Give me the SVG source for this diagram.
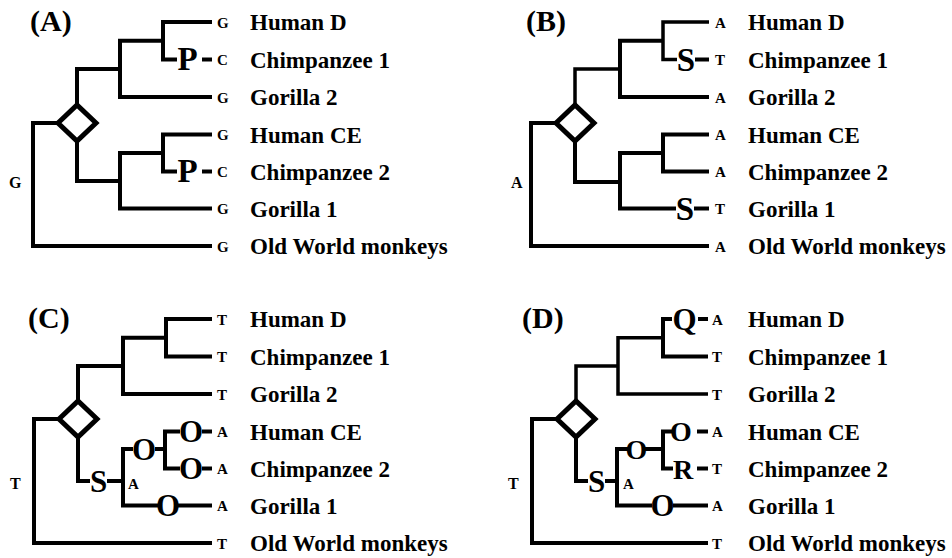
<svg xmlns="http://www.w3.org/2000/svg" width="952" height="558" viewBox="0 0 952 558">
<style>
.br{fill:none;stroke:#000;stroke-width:4;stroke-linejoin:miter;stroke-linecap:butt}
.thin{stroke-width:3.5}
.dm{fill:#fff;stroke:#000;stroke-width:5;stroke-linejoin:miter}
text{font-family:"Liberation Serif","Times New Roman",serif;font-weight:bold;fill:#000}
.pl{font-size:30px}
.nm{font-size:23px}
.tip{font-size:15px}
.rt{font-size:16px}
.mut{font-size:31px;text-anchor:middle}
.big{font-size:33px}
.mut2{font-size:28px;text-anchor:middle}
</style>
<rect width="952" height="558" fill="#fff"/>

<!-- Panel A -->
<g id="panelA">
  <text id="A-title" class="pl" x="30" y="31">(A)</text>
  <g id="A-connectors">
    <path class="br" d="M212,22 H163 V59.5 H177"/>
    <path class="br" d="M202,59.5 H212"/>
    <path class="br" d="M163,40.75 H120 V97 H212"/>
    <path class="br" d="M120,69 H77 V105"/>
    <path class="br" d="M77,141 V181 H120"/>
    <path class="br" d="M163,153 H120 V208.5 H212"/>
    <path class="br" d="M212,134.5 H163 V171.5 H177"/>
    <path class="br" d="M202,171.5 H212"/>
    <path class="br" d="M58,123 H33 V246 H212"/>
  </g>
  <g id="A-duplication"><polygon class="dm" points="58,123 77,105 96,123 77,141"/></g>
  <g id="A-root"><text class="rt" x="9" y="188">G</text></g>
  <g id="A-mut1"><text class="mut big" x="187.5" y="70">P</text></g>
  <g id="A-mut2"><text class="mut big" x="187.5" y="182">P</text></g>
  <g id="A-humanD"><text class="tip" x="217" y="27.5">G</text><text class="nm" x="250" y="30">Human D</text></g>
  <g id="A-chimp1"><text class="tip" x="217" y="65">C</text><text class="nm" x="250" y="67.5">Chimpanzee 1</text></g>
  <g id="A-gorilla2"><text class="tip" x="217" y="102.5">G</text><text class="nm" x="250" y="105">Gorilla 2</text></g>
  <g id="A-humanCE"><text class="tip" x="217" y="140">G</text><text class="nm" x="250" y="142.5">Human CE</text></g>
  <g id="A-chimp2"><text class="tip" x="217" y="177">C</text><text class="nm" x="250" y="179.5">Chimpanzee 2</text></g>
  <g id="A-gorilla1"><text class="tip" x="217" y="214">G</text><text class="nm" x="250" y="216.5">Gorilla 1</text></g>
  <g id="A-owm"><text class="tip" x="217" y="251.5">G</text><text class="nm" x="250" y="254">Old World monkeys</text></g>
</g>

<!-- Panel B -->
<g id="panelB">
  <text id="B-title" class="pl" x="526" y="31">(B)</text>
  <g id="B-connectors">
    <path class="br thin" d="M709,22 H663 V59.5 H677"/>
    <path class="br" d="M695,59.5 H709"/>
    <path class="br" d="M663,40.75 H620 V97 H709"/>
    <path class="br thin" d="M620,69 H575 V105"/>
    <path class="br" d="M575,141 V182 H620"/>
    <path class="br" d="M663,153 H620 V208.5 H676"/>
    <path class="br" d="M694,208.5 H709"/>
    <path class="br" d="M709,134.5 H663 V171.5 H709"/>
    <path class="br" d="M556,123 H531 V246 H709"/>
  </g>
  <g id="B-duplication"><polygon class="dm" points="556,123 575,105 594,123 575,141"/></g>
  <g id="B-root"><text class="rt" x="511" y="188">A</text></g>
  <g id="B-mut1"><text class="mut big" x="686" y="71">S</text></g>
  <g id="B-mut2"><text class="mut big" x="685" y="220">S</text></g>
  <g id="B-humanD"><text class="tip" x="715" y="27.5">A</text><text class="nm" x="748" y="30">Human D</text></g>
  <g id="B-chimp1"><text class="tip" x="715" y="65">T</text><text class="nm" x="748" y="67.5">Chimpanzee 1</text></g>
  <g id="B-gorilla2"><text class="tip" x="715" y="102.5">A</text><text class="nm" x="748" y="105">Gorilla 2</text></g>
  <g id="B-humanCE"><text class="tip" x="715" y="140">A</text><text class="nm" x="748" y="142.5">Human CE</text></g>
  <g id="B-chimp2"><text class="tip" x="715" y="177">A</text><text class="nm" x="748" y="179.5">Chimpanzee 2</text></g>
  <g id="B-gorilla1"><text class="tip" x="715" y="214">T</text><text class="nm" x="748" y="216.5">Gorilla 1</text></g>
  <g id="B-owm"><text class="tip" x="715" y="251.5">A</text><text class="nm" x="748" y="254">Old World monkeys</text></g>
</g>

<!-- Panel C -->
<g id="panelC">
  <text id="C-title" class="pl" x="28" y="328">(C)</text>
  <g id="C-connectors">
    <path class="br" d="M212,319 H166 V356.5 H212"/>
    <path class="br" d="M166,337.75 H123 V394 H212"/>
    <path class="br" d="M123,366 H78 V401"/>
    <path class="br" d="M59,419 H34 V543 H212"/>
    <path class="br" d="M78,437 V481 H90"/>
    <path class="br" d="M107,481 H123"/>
    <path class="br" d="M133,449 H123 V505.5 H158"/>
    <path class="br" d="M178,505.5 H212"/>
    <path class="br" d="M155,449 H165"/>
    <path class="br" d="M180,431.5 H165 V468.5 H180"/>
    <path class="br" d="M202,431.5 H212"/>
    <path class="br" d="M202,468.5 H212"/>
  </g>
  <g id="C-duplication"><polygon class="dm" points="59,419 78,401 97,419 78,437"/></g>
  <g id="C-root"><text class="rt" x="10" y="489">T</text></g>
  <g id="C-mutS"><text class="mut" x="98.5" y="491.5">S</text></g>
  <g id="C-ancA"><text class="tip" x="128" y="489">A</text></g>
  <g id="C-mutO1"><text class="mut" x="144" y="459.5">O</text></g>
  <g id="C-mutO2"><text class="mut" x="191" y="442">O</text></g>
  <g id="C-mutO3"><text class="mut" x="191" y="479">O</text></g>
  <g id="C-mutO4"><text class="mut" x="168" y="516">O</text></g>
  <g id="C-humanD"><text class="tip" x="217" y="324.5">T</text><text class="nm" x="250" y="327">Human D</text></g>
  <g id="C-chimp1"><text class="tip" x="217" y="362">T</text><text class="nm" x="250" y="364.5">Chimpanzee 1</text></g>
  <g id="C-gorilla2"><text class="tip" x="217" y="399.5">T</text><text class="nm" x="250" y="402">Gorilla 2</text></g>
  <g id="C-humanCE"><text class="tip" x="217" y="437">A</text><text class="nm" x="250" y="439.5">Human CE</text></g>
  <g id="C-chimp2"><text class="tip" x="217" y="474">A</text><text class="nm" x="250" y="476.5">Chimpanzee 2</text></g>
  <g id="C-gorilla1"><text class="tip" x="217" y="511">A</text><text class="nm" x="250" y="513.5">Gorilla 1</text></g>
  <g id="C-owm"><text class="tip" x="217" y="548.5">T</text><text class="nm" x="250" y="551">Old World monkeys</text></g>
</g>

<!-- Panel D -->
<g id="panelD">
  <text id="D-title" class="pl" x="522" y="328">(D)</text>
  <g id="D-connectors">
    <path class="br" d="M672,319 H663 V356.5 H708"/>
    <path class="br" d="M698,319 H708"/>
    <path class="br thin" d="M663,337.75 H618 V394 H708"/>
    <path class="br thin" d="M618,366 H576 V401"/>
    <path class="br" d="M557,419 H532 V543 H708"/>
    <path class="br" d="M576,437 V481 H588"/>
    <path class="br" d="M605,481 H617"/>
    <path class="br" d="M628,449 H617 V505.5 H652"/>
    <path class="br" d="M673,505.5 H708"/>
    <path class="br" d="M645,449 H663"/>
    <path class="br" d="M672,431.5 H663 V468.5 H673"/>
    <path class="br" d="M697,431.5 H708"/>
    <path class="br" d="M697,468.5 H708"/>
  </g>
  <g id="D-duplication"><polygon class="dm" points="557,419 576,401 595,419 576,437"/></g>
  <g id="D-root"><text class="rt" x="508" y="489">T</text></g>
  <g id="D-mutS"><text class="mut" x="596.5" y="491.5">S</text></g>
  <g id="D-ancA"><text class="tip" x="623" y="489">A</text></g>
  <g id="D-mutQ"><text class="mut" x="684.5" y="329.5">Q</text></g>
  <g id="D-mutO1"><text class="mut2" x="636.5" y="458.5">O</text></g>
  <g id="D-mutO2"><text class="mut2" x="681" y="441">O</text></g>
  <g id="D-mutR"><text class="mut2" x="683" y="478.5">R</text></g>
  <g id="D-mutO3"><text class="mut" x="662.5" y="516">O</text></g>
  <g id="D-humanD"><text class="tip" x="712" y="324.5">A</text><text class="nm" x="748" y="327">Human D</text></g>
  <g id="D-chimp1"><text class="tip" x="712" y="362">T</text><text class="nm" x="748" y="364.5">Chimpanzee 1</text></g>
  <g id="D-gorilla2"><text class="tip" x="712" y="399.5">T</text><text class="nm" x="748" y="402">Gorilla 2</text></g>
  <g id="D-humanCE"><text class="tip" x="712" y="437">A</text><text class="nm" x="748" y="439.5">Human CE</text></g>
  <g id="D-chimp2"><text class="tip" x="712" y="474">T</text><text class="nm" x="748" y="476.5">Chimpanzee 2</text></g>
  <g id="D-gorilla1"><text class="tip" x="712" y="511">A</text><text class="nm" x="748" y="513.5">Gorilla 1</text></g>
  <g id="D-owm"><text class="tip" x="712" y="548.5">T</text><text class="nm" x="748" y="551">Old World monkeys</text></g>
</g>
</svg>
